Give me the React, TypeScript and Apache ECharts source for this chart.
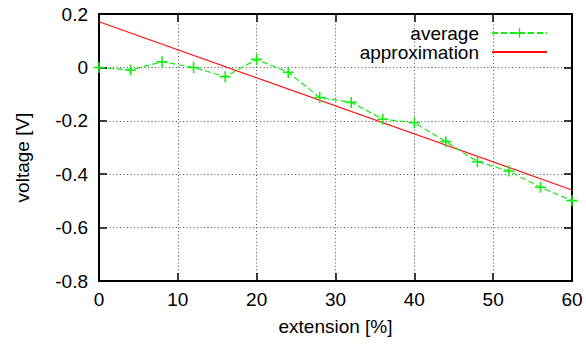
import React, { useEffect, useRef } from "react";
import * as echarts from "echarts";

const xValues = [0, 4, 8, 12, 16, 20, 24, 28, 32, 36, 40, 44, 48, 52, 56, 60];
const averageValues = [0.0, -0.01, 0.021, 0.0, -0.035, 0.03, -0.018, -0.113, -0.131, -0.194, -0.207, -0.278, -0.353, -0.388, -0.449, -0.499];
const approxX = [0, 60];
const approxY = [0.171, -0.459];
const seriesNames = ["average", "approximation"];
const xAxisName = "extension [%]";
const yAxisName = "voltage [V]";

const FONT = "Liberation Sans, Arial, Helvetica, sans-serif";
const GREEN = "#11ee11";
const RED = "#ff1010";

export default function App() {
  const ref = useRef<HTMLDivElement>(null);
  useEffect(() => {
    if (!ref.current) return;
    const chart = echarts.init(ref.current, null, { renderer: "svg" });
    const gridLine = { show: true, lineStyle: { color: "#555", width: 1, type: [1, 2.5] } };
    const axisLine = { show: true, onZero: false, lineStyle: { color: "#000", width: 2 } };
    const tick = { show: true, inside: true, length: 8, lineStyle: { color: "#000", width: 1.5 } };
    const plus = "path://M4.3,0H5.7V4.3H10V5.7H5.7V10H4.3V5.7H0V4.3H4.3Z";
    const legendText = { fontSize: 19, color: "#000", fontFamily: FONT, padding: [0, 8, 0, 0] };
    chart.setOption({
      animation: false,
      backgroundColor: "#fff",
      textStyle: { fontFamily: FONT },
      grid: { left: 99, right: 14, top: 14, bottom: 64, containLabel: false },
      legend: [
        {
          data: [seriesNames[0]],
          right: 33,
          top: 18.5,
          align: "right",
          itemWidth: 55,
          itemHeight: 12,
          textStyle: legendText,
        },
        {
          data: [{ name: seriesNames[1], itemStyle: { color: "rgba(0,0,0,0)", borderWidth: 0 } }],
          right: 33,
          top: 37.5,
          align: "right",
          itemWidth: 55,
          itemHeight: 12,
          textStyle: legendText,
        },
      ],
      xAxis: [
        {
          type: "value",
          min: 0,
          max: 60,
          interval: 10,
          axisLine,
          axisTick: tick,
          splitLine: gridLine,
          axisLabel: { fontSize: 19, color: "#000", margin: 9, fontFamily: FONT },
          name: xAxisName,
          nameLocation: "middle",
          nameGap: 36,
          nameTextStyle: { fontSize: 19, color: "#000", fontFamily: FONT },
        },
        {
          type: "value",
          position: "top",
          min: 0,
          max: 60,
          interval: 10,
          axisLine,
          axisTick: tick,
          splitLine: { show: false },
          axisLabel: { show: false },
        },
      ],
      yAxis: [
        {
          type: "value",
          min: -0.8,
          max: 0.2,
          interval: 0.2,
          axisLine,
          axisTick: tick,
          splitLine: gridLine,
          axisLabel: { fontSize: 19, color: "#000", margin: 11, fontFamily: FONT },
          name: yAxisName,
          nameLocation: "middle",
          nameGap: 67,
          nameTextStyle: { fontSize: 19, color: "#000", fontFamily: FONT, padding: [0, 20, 0, 0] },
        },
        {
          type: "value",
          position: "right",
          min: -0.8,
          max: 0.2,
          interval: 0.2,
          axisLine,
          axisTick: tick,
          splitLine: { show: false },
          axisLabel: { show: false },
        },
      ],
      series: [
        {
          name: seriesNames[0],
          type: "line",
          data: xValues.map((x, i) => [x, averageValues[i]]),
          lineStyle: { color: GREEN, width: 1.2, type: [6, 3] },
          itemStyle: { color: GREEN },
          symbol: plus,
          symbolSize: 11,
          showSymbol: true,
          z: 3,
        },
        {
          name: seriesNames[1],
          type: "line",
          data: approxX.map((x, i) => [x, approxY[i]]),
          lineStyle: { color: RED, width: 1.2, type: "solid" },
          itemStyle: { color: RED },
          symbol: "none",
          z: 2,
        },
      ],
    });
    return () => chart.dispose();
  }, []);
  return (
    <div
      ref={ref}
      style={{ position: "fixed", left: 0, top: 0, width: 586, height: 345 }}
    />
  );
}
